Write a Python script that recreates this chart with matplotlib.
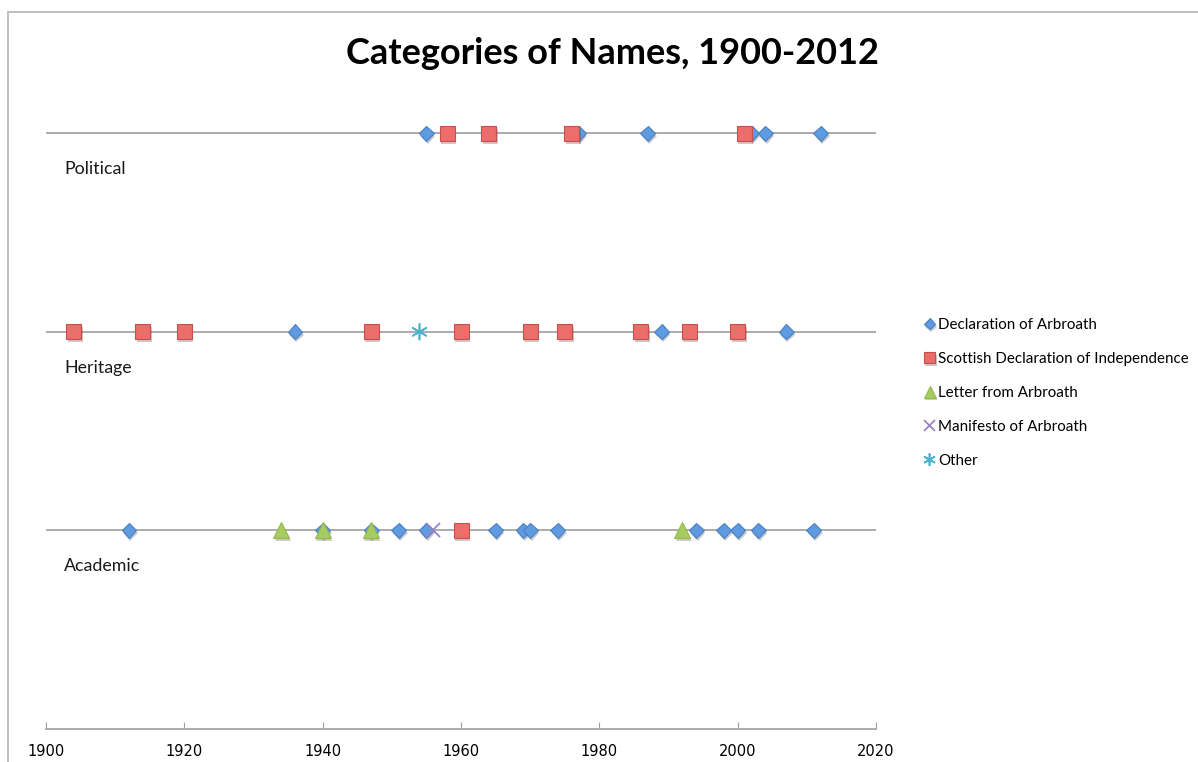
import matplotlib.pyplot as plt
import matplotlib.patheffects as pe
from matplotlib.patches import Rectangle

# rows: 1 = Academic, 2 = Heritage, 3 = Political
ROW_NAMES = ["Academic", "Heritage", "Political"]
ROW_Y = [1, 2, 3]

decl_political = [1955, 1977, 1987, 2002, 2004, 2012]
decl_heritage = [1936, 1989, 2007]
decl_academic = [1912, 1940, 1947, 1951, 1955, 1965, 1969, 1970, 1974,
                 1994, 1998, 2000, 2003, 2011]

scot_political = [1958, 1964, 1976, 2001]
scot_heritage = [1904, 1914, 1920, 1947, 1960, 1970, 1975, 1986, 1993, 2000]
scot_academic = [1960]

letter_academic = [1934, 1940, 1947, 1992]
manifesto_academic = [1956]
other_heritage = [1954]

x_ticks = [1900, 1920, 1940, 1960, 1980, 2000, 2020]

plt.rcParams["font.family"] = ["Lato", "DejaVu Sans"]

fig = plt.figure(figsize=(11.98, 7.62), dpi=100)
ax = fig.add_axes([46 / 1198, 1 - 729 / 762, 830 / 1198, 695 / 762])

shadow = [pe.SimplePatchShadow(offset=(1, -2), alpha=0.25), pe.Normal()]


def series(xs, ys, label, **kw):
    ax.plot(xs, ys, linestyle="none", label=label, path_effects=shadow,
            zorder=3, **kw)


def rows(acad, herit, polit):
    xs = acad + herit + polit
    ys = [1] * len(acad) + [2] * len(herit) + [3] * len(polit)
    return xs, ys


xs, ys = rows(decl_academic, decl_heritage, decl_political)
series(xs, ys, "Declaration of Arbroath", marker="D", markersize=7.6,
       markerfacecolor="#5f9be0", markeredgecolor="#4a7fc0", markeredgewidth=0.8)

xs, ys = rows(scot_academic, scot_heritage, scot_political)
series(xs, ys, "Scottish Declaration of Independence", marker="s",
       markersize=10.8, markerfacecolor="#ec6d69", markeredgecolor="#c4514e",
       markeredgewidth=0.8)

xs, ys = rows(letter_academic, [], [])
series(xs, ys, "Letter from Arbroath", marker="^", markersize=11.5,
       markerfacecolor="#a6cc5f", markeredgecolor="#93b84f", markeredgewidth=0.8)

xs, ys = rows(manifesto_academic, [], [])
series(xs, ys, "Manifesto of Arbroath", marker="x", markersize=10,
       color="#9b82c8", markeredgewidth=1.3)

xs, ys = rows([], other_heritage, [])
series(xs, ys, "Other", marker=(6, 2, 0), markersize=12,
       color="#4bb3cc", markeredgewidth=1.2)

ax.set_xlim(1900, 2020)
ax.set_ylim(0, 3.5)
ax.set_xticks(x_ticks)
ax.set_xticklabels([str(t) for t in x_ticks],
                   family=["Liberation Sans Narrow", "DejaVu Sans"], fontsize=10.5)
ax.set_yticks(ROW_Y)
ax.tick_params(axis="y", length=0, labelleft=False)
ax.tick_params(axis="x", direction="in", length=5, color="#a0a0a0", pad=11)
ax.yaxis.grid(True, color="#a6a6a6", linewidth=1.3)
ax.set_axisbelow(True)
for s in ["top", "right", "left"]:
    ax.spines[s].set_visible(False)
ax.spines["bottom"].set_color("#a6a6a6")
ax.spines["bottom"].set_linewidth(1.3)

for name, y in zip(ROW_NAMES, ROW_Y):
    ax.text(1902.6, y - 0.18, name, fontsize=12.8, va="center", ha="left",
            color="#1a1a1a")

fig.text(612 / 1198, 1 - 53 / 762, "Categories of Names, 1900-2012",
         fontsize=26, fontweight="bold", ha="center", va="center")

leg = fig.legend(loc="center left", bbox_to_anchor=(925 / 1198, 1 - 393 / 762),
                 frameon=False, fontsize=10.9, handlelength=0.6,
                 handletextpad=0.25, labelspacing=1.32, markerscale=0.75,
                 borderaxespad=0, borderpad=0)

fig.add_artist(Rectangle((8 / 1198, -0.1), 1.2, 1 - 12 / 762 + 0.1,
                         transform=fig.transFigure, fill=False,
                         edgecolor="#b4b4b4", linewidth=1.2, clip_on=False))

fig.savefig("out.png", dpi=100)
